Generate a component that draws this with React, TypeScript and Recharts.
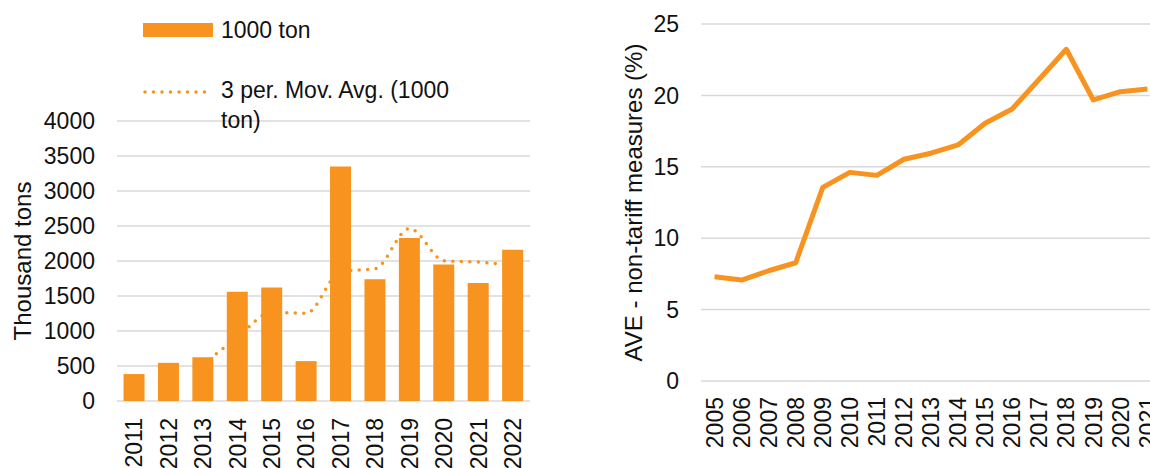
import React from 'react';
import { ComposedChart, Bar, Line, XAxis, YAxis, CartesianGrid, Legend } from 'recharts';

const barYears = ['2011', '2012', '2013', '2014', '2015', '2016', '2017', '2018', '2019', '2020', '2021', '2022'];
const tonValues = [385, 545, 625, 1560, 1620, 570, 3350, 1740, 2330, 1950, 1685, 2160];
const movAvgValues: (number | null)[] = [null, null, 520, 910, 1265, 1255, 1850, 1890, 2465, 2005, 1985, 1940];
const leftTicks = [0, 500, 1000, 1500, 2000, 2500, 3000, 3500, 4000];

const aveYears = ['2005', '2006', '2007', '2008', '2009', '2010', '2011', '2012', '2013', '2014', '2015', '2016', '2017', '2018', '2019', '2020', '2021'];
const aveValues = [7.3, 7.07, 7.72, 8.28, 13.56, 14.61, 14.4, 15.53, 15.95, 16.53, 18.05, 19.05, 21.13, 23.23, 19.68, 20.26, 20.45];
const rightTicks = [0, 5, 10, 15, 20, 25];

const barName = '1000 ton';
const avgName = '3 per. Mov. Avg. (1000 ton)';

const leftData = barYears.map((year, i) => ({ year, tons: tonValues[i], avg: movAvgValues[i] }));
const rightData = aveYears.map((year, i) => ({ year, ave: aveValues[i] }));

const ORANGE = '#F7931E';
const GRID = '#D9D9D9';
const TEXT = '#111111';
const FONT = '"Liberation Sans", Arial, sans-serif';
const TICK_FS = 23;
const TITLE_FS = 24;

const boundaries = (n: number) => Array.from({ length: n + 1 }, (_, i) => i);

const RotatedTick = (props: any) => {
  const { x, y, payload } = props;
  return (
    <g transform={`translate(${x},${y})`}>
      <text
        transform="rotate(-90)"
        textAnchor="end"
        dy="0.355em"
        fill={TEXT}
        fontSize={TICK_FS}
        fontFamily={FONT}
      >
        {payload.value}
      </text>
    </g>
  );
};

const LegendContent = (props: any) => {
  const payload = props.payload || [];
  const barItem = payload.find((p: any) => p.value === barName);
  const avgItem = payload.find((p: any) => p.value === avgName);
  return (
    <div style={{ position: 'relative', width: 590, height: 140, fontFamily: FONT, fontSize: TICK_FS, color: TEXT }}>
      {barItem && (
        <div style={{ position: 'absolute', left: 143, top: 16, display: 'flex', alignItems: 'center' }}>
          <svg width={70} height={14}>
            <rect x={0} y={0} width={70} height={14} fill={ORANGE} />
          </svg>
          <span style={{ marginLeft: 8, lineHeight: '28px', whiteSpace: 'nowrap' }}>{barItem.value}</span>
        </div>
      )}
      {avgItem && (
        <div style={{ position: 'absolute', left: 143, top: 75, display: 'flex', alignItems: 'flex-start' }}>
          <svg width={70} height={28}>
            <line x1={2} y1={17} x2={68} y2={17} stroke={ORANGE} strokeWidth={3.5} strokeDasharray="0 8.5" strokeLinecap="round" />
          </svg>
          <span style={{ marginLeft: 8, lineHeight: '30px', width: 260, display: 'block' }}>{avgItem.value}</span>
        </div>
      )}
    </div>
  );
};

export default function App() {
  return (
    <div style={{ position: 'absolute', left: 0, top: 0, width: 1150, height: 468, overflow: 'hidden', background: '#fff' }}>
      <div style={{ position: 'absolute', left: 0, top: 0 }}>
        <ComposedChart width={590} height={468} data={leftData} margin={{ top: 121, right: 60, bottom: 0, left: 0 }} barCategoryGap="19%">
          <CartesianGrid vertical={false} stroke={GRID} strokeWidth={1.5} xAxisId="c" />
          <XAxis
            xAxisId="t"
            type="number"
            domain={[0, barYears.length]}
            ticks={boundaries(barYears.length)}
            allowDataOverflow
            height={0}
            tick={false}
            tickSize={13}
            axisLine={{ stroke: GRID, strokeWidth: 1.5 }}
            tickLine={{ stroke: GRID, strokeWidth: 1.5, transform: 'translate(0,-6)' }}
          />
          <XAxis
            xAxisId="c"
            dataKey="year"
            scale="band"
            interval={0}
            height={67}
            axisLine={false}
            tickLine={false}
            tickSize={0}
            tickMargin={17}
            tick={<RotatedTick />}
          />
          <YAxis
            domain={[0, 4000]}
            ticks={leftTicks}
            width={117}
            axisLine={false}
            tickLine={false}
            tickSize={0}
            tickMargin={22}
            tick={{ fontSize: TICK_FS, fill: TEXT, fontFamily: FONT }}
            label={{ value: 'Thousand tons', angle: -90, position: 'insideLeft', offset: 22, style: { textAnchor: 'middle', fontSize: TITLE_FS, fill: TEXT, fontFamily: FONT } }}
          />
          <Legend layout="vertical" align="center" verticalAlign="middle" wrapperStyle={{ top: 0, left: 0, width: 590, height: 140 }} content={<LegendContent />} />
          <Line
            xAxisId="c"
            dataKey="avg"
            name={avgName}
            type="monotone"
            stroke={ORANGE}
            strokeWidth={3.5}
            strokeDasharray="0 8.5"
            strokeLinecap="round"
            dot={false}
            activeDot={false}
            isAnimationActive={false}
            zIndex={250}
          />
          <Bar xAxisId="c" dataKey="tons" name={barName} fill={ORANGE} isAnimationActive={false} />
        </ComposedChart>
      </div>
      <div style={{ position: 'absolute', left: 590, top: 0 }}>
        <ComposedChart width={590} height={468} data={rightData} margin={{ top: 24, right: 19, bottom: 0, left: 0 }}>
          <CartesianGrid vertical={false} stroke={GRID} strokeWidth={1.5} xAxisId="c" />
          <XAxis
            xAxisId="t"
            type="number"
            domain={[0, aveYears.length]}
            ticks={boundaries(aveYears.length)}
            allowDataOverflow
            height={0}
            tick={false}
            tickSize={14}
            axisLine={{ stroke: GRID, strokeWidth: 1.5 }}
            tickLine={{ stroke: GRID, strokeWidth: 1.5, transform: 'translate(0,-7)' }}
          />
          <XAxis
            xAxisId="c"
            dataKey="year"
            scale="band"
            interval={0}
            height={87}
            axisLine={false}
            tickLine={false}
            tickSize={0}
            tickMargin={16}
            tick={<RotatedTick />}
          />
          <YAxis
            domain={[0, 25]}
            ticks={rightTicks}
            width={111}
            axisLine={false}
            tickLine={false}
            tickSize={0}
            tickMargin={22}
            tick={{ fontSize: TICK_FS, fill: TEXT, fontFamily: FONT }}
            label={{ value: 'AVE - non-tariff measures (%)', angle: -90, position: 'insideLeft', offset: 43, style: { textAnchor: 'middle', fontSize: TITLE_FS, fill: TEXT, fontFamily: FONT } }}
          />
          <Line
            xAxisId="c"
            dataKey="ave"
            name="AVE"
            type="linear"
            stroke={ORANGE}
            strokeWidth={5}
            strokeLinejoin="round"
            dot={false}
            activeDot={false}
            isAnimationActive={false}
          />
        </ComposedChart>
      </div>
    </div>
  );
}
